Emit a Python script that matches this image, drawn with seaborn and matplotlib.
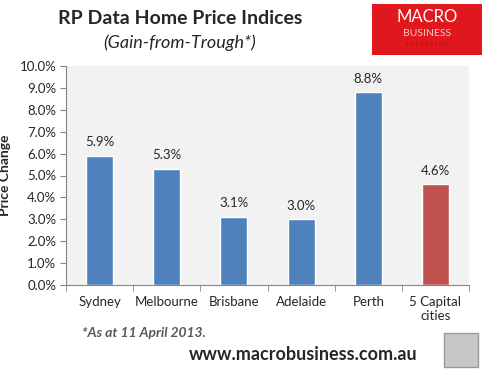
import matplotlib
matplotlib.use("Agg")
import matplotlib.pyplot as plt
import seaborn as sns
from matplotlib.patches import Rectangle
from matplotlib.ticker import FuncFormatter, MultipleLocator

# chart data
cities = ["Sydney", "Melbourne", "Brisbane", "Adelaide", "Perth", "5 Capital\ncities"]
gains = [5.9, 5.3, 3.1, 3.0, 8.8, 4.6]
bar_colors = ["#4F81BD"] * 5 + ["#C0504D"]

sns.set_style("white")
plt.rcParams["font.family"] = ["Lato", "DejaVu Sans"]

fig = plt.figure(figsize=(4.82, 3.74), dpi=100)
W, H = 482, 374
ax = fig.add_axes([66 / W, (H - 285) / H, 403 / W, 219 / H])
ax.set_facecolor("#F2F2F2")

sns.barplot(x=cities, y=gains, hue=cities, palette=bar_colors, width=0.4,
            legend=False, saturation=1, ax=ax)

for i, v in enumerate(gains):
    ax.text(i, v + 0.35, f"{v:.1f}%", ha="center", va="bottom", fontsize=9.5)

ax.set_ylim(0, 10)
ax.set_xlim(-0.5, len(cities) - 0.5)
ax.yaxis.set_major_locator(MultipleLocator(1))
ax.yaxis.set_major_formatter(FuncFormatter(lambda v, p: f"{v:.1f}%"))
ax.set_ylabel("Price Change", fontsize=10, fontweight="bold")
ax.yaxis.set_label_coords(-0.137, 0.5)
ax.set_xlabel("")

for s in ["top", "right"]:
    ax.spines[s].set_visible(False)
ax.spines["left"].set_color("#868686")
ax.spines["bottom"].set_color("#868686")
ax.tick_params(axis="y", length=4, color="#868686", labelsize=9.5, left=True, pad=3)
ax.tick_params(axis="x", length=0, labelsize=9.5, pad=8)
ax.set_xticks([x + 0.5 for x in range(-1, len(cities))], minor=True)
ax.tick_params(axis="x", which="minor", length=4, color="#868686", bottom=True)

# titles
fig.text(180 / W, 1 - 18 / H, "RP Data Home Price Indices", ha="center", va="center",
         fontsize=14, fontweight="bold")
fig.text(180 / W, 1 - 43 / H, "(Gain-from-Trough*)", ha="center", va="center",
         fontsize=13, style="italic")

# footnotes
fig.text(82 / W, 1 - 333 / H, "*As at 11 April 2013.", ha="left", va="center",
         fontsize=10, fontweight="bold", style="italic", color="#595959")
fig.text(303 / W, 1 - 354 / H, "www.macrobusiness.com.au", ha="center", va="center",
         fontsize=13, fontweight="bold")

# logo box
fig.patches.append(Rectangle((372 / W, 1 - 55 / H), 110 / W, 51 / H, transform=fig.transFigure,
                             facecolor="#E0171C", edgecolor="none"))
fig.text(427 / W, 1 - 17 / H, "MACRO", ha="center", va="center", color="white", fontsize=12)
fig.text(427 / W, 1 - 34 / H, "BUSINESS", ha="center", va="center", color="#F7C8C8", fontsize=7.5)
fig.text(427 / W, 1 - 44 / H, "S U P E R B L O G", ha="center", va="center", color="#B01015", fontsize=4)

# wolf picture placeholder
fig.patches.append(Rectangle((444 / W, 1 - 367 / H), 34 / W, 34 / H, transform=fig.transFigure,
                             facecolor="#C8C8C8", edgecolor="#9A9A9A", linewidth=1))

fig.savefig("out.png", dpi=100)
